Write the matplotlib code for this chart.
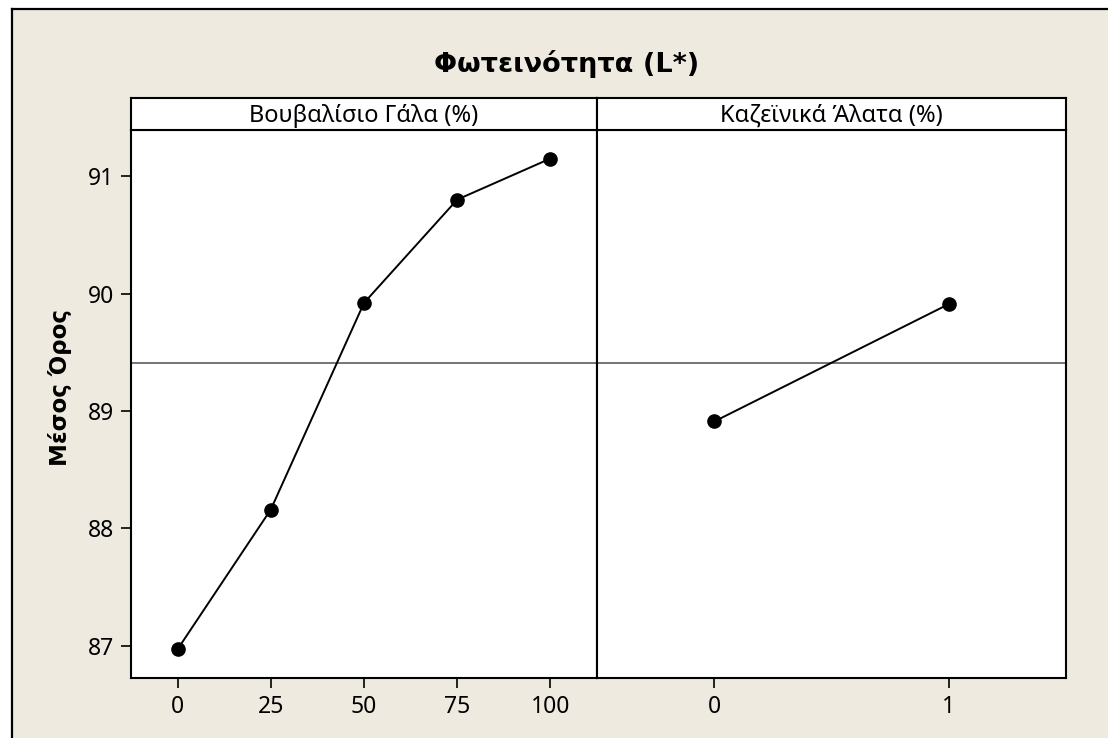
import matplotlib
matplotlib.use("Agg")
import matplotlib.pyplot as plt
from matplotlib.patches import Rectangle
from matplotlib.lines import Line2D

# ---- data ----
title = "Φωτεινότητα (L*)"
ylabel = "Μέσος Όρος"
factor1_name = "Βουβαλίσιο Γάλα (%)"
factor1_levels = [0, 25, 50, 75, 100]
factor1_means = [86.97, 88.16, 89.92, 90.80, 91.15]
factor2_name = "Καζεϊνικά Άλατα (%)"
factor2_levels = ["0", "1"]
factor2_means = [88.91, 89.91]
grand_mean = 89.41
y_ticks = [87, 88, 89, 90, 91]

plt.rcParams['font.family'] = ['Noto Sans', 'DejaVu Sans']

W, H = 1108, 738
fig = plt.figure(figsize=(W / 100, H / 100), dpi=100, facecolor='white')

def fx(px):
    return px / W

def fy(py):
    return 1 - py / H

BG = '#EEEAE0'
# beige background with black left/top border
bg = Rectangle((fx(12), 0), 1 - fx(12), fy(9), transform=fig.transFigure,
               facecolor=BG, edgecolor='none', zorder=-10)
fig.add_artist(bg)
fig.add_artist(Line2D([fx(12), fx(12)], [0, fy(9)], transform=fig.transFigure, color='black', lw=1.6, zorder=-5))
fig.add_artist(Line2D([fx(12), 1], [fy(9), fy(9)], transform=fig.transFigure, color='black', lw=1.6, zorder=-5))

top, bot, hdr = 130, 678, 98
x0, xm, x1 = 131, 597, 1066
ylim = (86.725, 91.393)

axL = fig.add_axes([fx(x0), fy(bot), fx(xm - x0), fy(top) - fy(bot)])
axR = fig.add_axes([fx(xm), fy(bot), fx(x1 - xm), fy(top) - fy(bot)])

FS = 16.5
for ax in (axL, axR):
    ax.set_facecolor('white')
    ax.set_ylim(*ylim)
    for s in ax.spines.values():
        s.set_linewidth(1.5)
        s.set_color('black')
    ax.axhline(grand_mean, color='#505050', lw=1.1, zorder=1)
    ax.tick_params(axis='both', direction='out', length=7, width=1.2, labelsize=FS, pad=5, colors='black')

axL.plot(factor1_levels, factor1_means, color='black', lw=1.4, marker='o', ms=9.5, zorder=3)
axL.set_xlim(-12.5, 112.5)
axL.set_xticks(factor1_levels)
axL.set_xticklabels([str(v) for v in factor1_levels])
axL.set_yticks(y_ticks)
axL.set_yticklabels([str(v) for v in y_ticks])

pos2 = list(range(len(factor2_levels)))
axR.plot(pos2, factor2_means, color='black', lw=1.4, marker='o', ms=9.5, zorder=3)
axR.set_xlim(-0.5, 1.5)
axR.set_xticks(pos2)
axR.set_xticklabels(factor2_levels)
axR.set_yticks([])

# header strips
for (a, b, name) in ((x0, xm, factor1_name), (xm, x1, factor2_name)):
    hax = fig.add_axes([fx(a), fy(top), fx(b - a), fy(hdr) - fy(top)])
    hax.set_xticks([]); hax.set_yticks([])
    hax.set_facecolor('white')
    for s in hax.spines.values():
        s.set_linewidth(1.5)
    hax.text(0.5, 0.45, name, ha='center', va='center', fontsize=17, transform=hax.transAxes)

fig.text(fx(567), fy(64), title, ha='center', va='center', fontsize=19.5, fontweight='bold',
         family=['DejaVu Sans'])
fig.text(fx(60), fy(388), ylabel, ha='center', va='center', rotation=90, fontsize=16.5, fontweight='bold',
         family=['DejaVu Sans'])

fig.savefig('out.png', dpi=100, facecolor='white')
